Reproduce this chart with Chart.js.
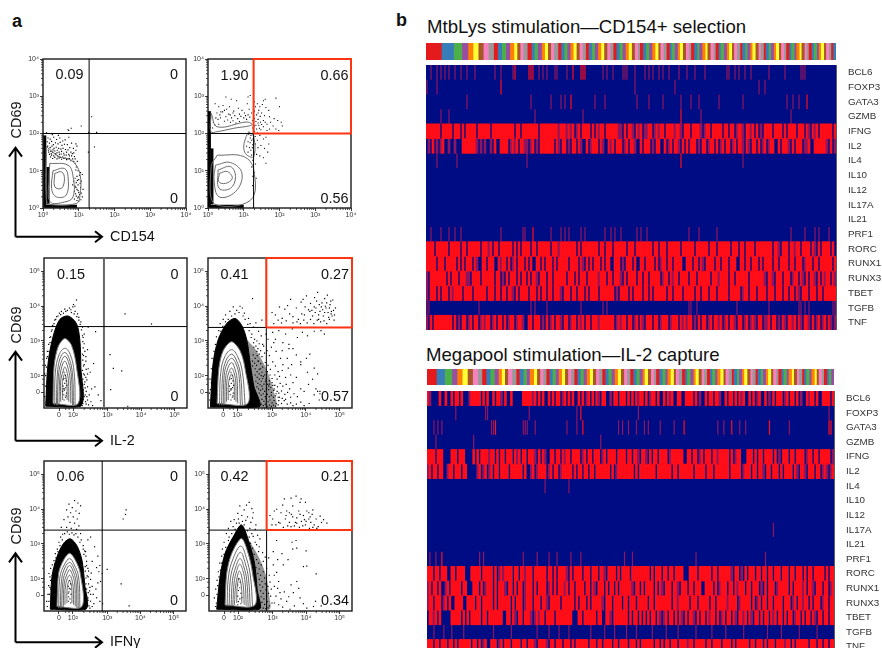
<!DOCTYPE html>
<html><head><meta charset="utf-8">
<script src="https://cdn.jsdelivr.net/npm/chart.js@4"></script>
<style>
html,body{margin:0;padding:0;width:882px;height:648px;overflow:hidden;background:#fff;font-family:'Liberation Sans',Arial,sans-serif}
.wrap{position:absolute}
.t{position:absolute;white-space:nowrap;color:#111;line-height:1;transform:translateY(-50%)}
canvas{display:block}
svg{position:absolute;left:0;top:0}
</style></head><body>
<script>
/* ---------- heat map: genes and cells ---------- */
const genes=["BCL6","FOXP3","GATA3","GZMB","IFNG","IL2","IL4","IL10","IL12","IL17A","IL21","PRF1","RORC","RUNX1","RUNX3","TBET","TGFB","TNF"];
const setColors=["#e41a1c","#377eb8","#4daf4a","#984ea3","#ff7f00","#ffff33","#a65628","#f781bf","#999999"];
const strip1Sizes=[15,12,8,6,5,5,5,5,5,4,4,4,4,4,3,3,3,4,4,3,3,4,3,3,3,3,4,3,3,3,3,3,3,3,3,3,3,3,3,3,3,3,3,3,3,3,3,3,3,3,3,3,3,2,3,3,3,3,3,3,2,3,3,3,2,3,3,2,3,3,3,2,3,3,2,3,3,2,3,3,2,3,2,3,3,2,3,2,3,3,2,3,2,3,2,3,3,2,3,2,3,2,3,2,3,2,3,2,3,2,3,2,3,2,3,2,2,3,2,3,2,2,3,2,3,2,2,3];
const strip2Sizes=[9,8,7,5,5,5,5,5,4,4,4,4,4,3,3,3,4,4,3,4,3,3,4,3,3,3,3,3,3,3,3,3,3,3,3,3,3,3,3,3,3,3,3,3,3,3,3,3,3,3,3,3,3,3,3,3,3,3,2,3,3,3,2,3,3,3,2,3,3,2,3,3,3,2,3,3,2,3,3,2,3,3,2,3,2,3,3,2,3,3,2,3,2,3,2,3,3,2,3,2,3,2,3,2,3,2,3,2,3,2,3,2,3,2,3,2,3,2,2,3,2,3,2,2,3,2,3,2,2,3];

const h1BCL6={dim:[2,5,7,9,11,14,17,20,24,34,37,43,56,58,60,64,65,70,88,90,93,98,99,100,104,109,111,113,116,118,121,126,130,134,139,150,151,154,156,159,162,171,179,187,188,189],hot:[44,51,52,53,73,77,78,79]};
const h1FOXP3={dim:[0,5,104,124,166,169],hot:[37]};
const h1GATA3={dim:[20,52,62,67,69,84,89,105,111,118,127,132,136,146,158,180,183,186],hot:[72,190]};
const h1GZMB={dim:[7,11,54,78,137,182],hot:[127]};
const h1IL4={dim:[5,15,50,158],hot:[127]};
const h1IL10={dim:[],hot:[]};
const h1IL12={dim:[],hot:[]};
const h1IL17A={dim:[],hot:[]};
const h1IL21={dim:[],hot:[]};
const h1PRF1={dim:[2,7,11,14,17,37,48,49,62,67,69,71,77,79,89,92,94,97,105,107,110,131,136,145,182,189,194,196,201],hot:[53]};
const h1TGFB={dim:[0,1,26,52,54,60,77,88,90,131,132,135,155,171,186,187,189,191,203,204],hot:[]};
const h1IFNG="#######.## ###.###.#. #####.#### ##.####### ####.##.## ######.### ######+### +#+#.+#.## ##.#.#+##. ######++.# .##+.#+#.+ +##.+#+##. ####+##+.# ##.####+.+ ##.#####.# #.##.+##+. ##+#.#.+.# ###.####.# .####.###. #+.#+#.### ###.#";
const h1IL2=".+.#.+.+#. .+..+...## #####+.+.+ ..+.#..### #.+#+#.##+ +.+#.+.### ####.#+.## .+.##.#+.. #.+###.#+. .#+#.###.+ #.##+..#.# ##.+.##..# .+#.##+.#. #.###.+.## .+##.#.+#. ##.+#.##+. #+.##.#.+# .+##..#.## #+.#.###.+ +#..###### +.#.+";
const h1RORC="####.##### #.#####.## .######.## #+#.##.### ###.#.#.## ##.##.#### ##.###+### #####.#.## ######.##. ###.###### .###.##### ###.##.### .######.## ####.##### #.###.#### ##.###.##. ####.##### ###.##+.## #.##+##.## ##.#+.#.## ##.#.";
const h1RUNX1="#####.###. #####.#.#. ###.#+..## .###..#+## .#.+#.###. #.#..##.#. ###.#.#### #.####.#+. #.#.###.#. ##..###.+. ###.#..##. ####.#.+## .##.####.. ###.##.#+. ####.##.## #.###..##. ##.###.#.# ###.##.### #.##.###.+ ###.##.### ###.#";
const h1RUNX3="+.######## .#.###.### ++.####.## ####.##.+. #.###.#.## .#.##+.### .##.###### .###.#.### .#####+### .##.###+.# .####.##.# #.#####.+# #.#+##.### #.###.#### ##.###+### #.##.##### #.#######+ .##+.###.# ##.+##.#+. #.##+.#.#+ ##.#+";
const h1TBET="+.###.#.## #.#+####.# ###.###### .###.##.## .##+.#.### #.###.#.## .##.###+.# ##.##.###. #.####.### ####.+.### #.#.####.# #.#.###### .##.####.# ####.##.## #.###.#### #.#####.+# #.###.#### .###.###.# #.##.#+.## #.###.##.# #####";
const h1TNF="+.#.###### ###.#.+.## .+#.##.+#+ ##.+#.##.# .+##.+##+. .##.###.+. #.+#.##+.# #.+##.#+#. ##.###+### ####.+#+## .##.+#.#+. ###.##.+## #.+###.#+# +##.+.#.## .+#.##+#.+ #.##+.##.+ #.+#+.##.+ +#.##.+.#+ .##+#.#+.# #+.#.+#.+# .#+.+";

const h2FOXP3={dim:[14,29,30,51,75,106,202],hot:[77]};
const h2GATA3={dim:[3,5,7,32,33,48,49,50,54,70,75,96,98,101,105,109,111,117,124,146,149,157,160,182],hot:[34,78,129,153,172,202,203]};
const h2GZMB={dim:[4,23,87],hot:[]};
const h2IL4={dim:[59,71],hot:[]};
const h2IL10={dim:[],hot:[]};
const h2IL12={dim:[],hot:[]};
const h2IL17A={dim:[174],hot:[]};
const h2IL21={dim:[],hot:[]};
const h2PRF1={dim:[1,4,26,28,48,55,61,65,72,77,99,103,135,170],hot:[7]};
const h2TGFB={dim:[3,8,18,42,55,61,71,82,89,100,105,113,126,135,150,159,171,187,12,33,66,94,120,143,178,196],hot:[]};
const h2BCL6="#+....#..# ..#.##.#.. .+#####.#. #..#.##+.# ..#.....## ###+#.#.#. .#.#.##.+# .#.#..#.#. +#.#.#+.## ..+.##.### .#.#.#+##. #.+##.#..# .#+#..##.. ####.#.+.. #.##.##+.. #.##.#.#+# ..#.#.+#.. #.+.#.###. +#.##.#.+. .#+##.#..# ###.#";
const h2IFNG="####.###.. ..###.###. ...#.#.### #+##.#.##. ###.#+#.## .###+.#.#+ ..##.##.#+ ##.####.+# .##.###.+# .####.#### .##.##+.## +.#.##.### #.+######. .##.##.+#. ###.##+### ##.#.+##.. .###.#.##. ####.#.+.# ##.##.#### .+##.##.## ###.+";
const h2IL2="+#.##.##.. +##.###.## .....+#.+# .+#.##.### #.######.# ..+#.+#### .+#.##.+## ###.#.##.# #.##.##### ##.#.+#### ####.#.### #####.#### ###.##.### ####.##### .###.##### ##.#####.+ ###.##.##+ .##.###.#. ####.#+.## +.###.##.+ #+.+#";
const h2RORC="###.##.### ..##.####. ..#####.## ###.#.+#+# ###.##.##+ ###.###### .##.#.#### +.#.####.# ##.###.##+ .####.#.## ##.####### ##.#.###.# #.##.####. ..####.### ###.##.### ###+.##.+. #.###.##.# #.##.###.# ##.##.###. #.##.##### .#.##";
const h2RUNX1="+#.##.#..+ #.#####.## ...###.#.+ ###.#.###+ .##.#.##.+ ###.#.#### .+#.#.###+ #.##.####. ##.#+.###. #.##.#.### ###+.##.#. ####.#.#+. ###.##+.## #.##.###.. ####.#.+## #.##.#+### .##.###.+. #.###.+### ##.#.####+ #.##+.###. ##.+#";
const h2RUNX3="+##.###.+# .#..####.. ####.##.## ###.#.#### ##.#.###.+ ###.###.## +.#####.## ####.#.### .#.#####+. ###.####.# #.###.#### #.##.##### ###.##+### ##.###.### ##.##.#### #+####.+## ###.#.+#.# #.##.####. ###.+#.##+ ##.#.###.+ ##.##";
const h2TBET=".##+#.#... ..#####.#. #.#####.## .#######.. ##.#+.##.# ##+.+#+##. ####.##### ###...##.# #####.##.. ##+.###### #.#.##.#.# .#.##.#+.+ #.##.#.#+. #.##+.#.## .#+##.#.+# .##.#+.##+ #.#+.##.#. ##.#+#.##. #.##.+##.# .##.#+.##. ##.##";
const h2TNF="###.##.### .##.#.#### ##.##.#.+# ..###.+#.# ##.####.## .###+.#### +.##.###.# ##.#.##### #.###.##.# ###.##.### #.###.#.## ####.##.#. ##.###.### #+##.##### .##.####.# ###.#.#### ##.##.###. #.###.#### +##.#.#### ##.###.##. ##.##";

/* ---------- flow panels: percentages, contours, events (axis values in decades) ---------- */
const topTicks=[0,1,2,3,4];
const topTickText=["10⁰","10¹","10²","10³","10⁴"];
const lowXTicks=[1.55,1.97,3,4,5];
const lowYTicks=[1.52,2,3,4,5];
const lowTickText=["0","10²","10³","10⁴","10⁵"];

const tlPct=["0.09","0","0"];
const trPct=["1.90","0.66","0.56"];
const mlPct=["0.15","0","0"];
const mrPct=["0.41","0.27","0.57"];
const blPct=["0.06","0","0"];
const brPct=["0.42","0.21","0.34"];

const tlLoops=[
[[0.09,1.65],[0.45,1.38],[0.8,1.28],[1.03,0.93],[1.03,0.3],[0.93,0.12],[0.18,0.1],[0.09,0.25],[0.09,1.65]],
[[0.19,1.2],[0.7,1.15],[0.84,0.85],[0.84,0.3],[0.6,0.16],[0.2,0.17],[0.17,0.8],[0.19,1.2]],
[[0.28,1.0],[0.6,1.06],[0.7,0.85],[0.65,0.35],[0.37,0.3],[0.24,0.52],[0.28,1.0]],
[[0.33,0.93],[0.52,0.97],[0.6,0.8],[0.52,0.53],[0.33,0.57],[0.33,0.93]]];
const tlBands=[[[0.05,0.02],[0.05,1.95]],[[0.04,0.05],[0.95,0.05]],[[0.14,0.1],[0.14,1.1]]];
const tlDots=[0.1,2.02,0.17,2,0.26,1.97,0.33,2,0.43,1.95,0.7,2.1,0.72,2.08,0.79,2.14,1.07,2.2,0.14,1.88,0.2,1.85,0.3,1.9,0.38,1.84,0.47,1.88,0.55,1.8,0.62,1.83,0.72,1.9,0.8,1.74,0.92,1.72,0.95,1.66,0.12,1.78,0.18,1.74,0.24,1.79,0.29,1.7,0.35,1.75,0.42,1.72,0.48,1.76,0.53,1.68,0.6,1.71,0.68,1.7,0.75,1.62,0.85,1.6,0.92,1.55,0.13,1.66,0.2,1.62,0.25,1.66,0.31,1.6,0.37,1.63,0.44,1.6,0.5,1.58,0.56,1.6,0.63,1.57,0.7,1.56,0.78,1.5,0.86,1.48,0.15,1.55,0.22,1.52,0.27,1.5,0.33,1.53,0.39,1.48,0.45,1.5,0.51,1.45,0.58,1.47,0.65,1.42,0.72,1.44,0.8,1.4,0.18,1.44,0.24,1.42,0.3,1.4,0.36,1.43,0.42,1.38,0.48,1.36,0.55,1.37,0.62,1.34,0.7,1.32,0.83,1.32,0.9,1.2,0.93,1.1,0.98,1,1.05,0.95,1.1,0.9,0.95,0.85,0.9,0.8,1,0.76,1.07,0.72,0.93,0.68,0.98,0.62,0.9,0.58,1.05,0.55,0.95,0.5,0.88,0.45,1,0.42,1.02,0.36,0.93,0.32,0.97,0.27,0.88,0.24,1,0.18,1.1,0.3,1.12,0.5,1.36,2.45,1.5,2.03,1.44,1.64,1.28,2.03,1.27,1.5,
0.16,1.5,0.23,1.46,0.28,1.56,0.34,1.46,0.4,1.55,0.46,1.44,0.52,1.52,0.59,1.42,0.66,1.5,0.74,1.4,0.82,1.46,0.88,1.38,0.21,1.37,0.27,1.33,0.33,1.36,0.39,1.32,0.45,1.34,0.52,1.31,0.58,1.33,0.66,1.3,0.74,1.33,0.78,1.27,0.86,1.25,0.9,1.32,0.96,1.25,0.92,1.02,1.02,0.88,0.96,0.74,1.04,0.66,0.92,0.55,0.98,0.47,1.07,0.4,0.91,0.38,0.99,0.3,1.06,0.22,0.95,0.2,0.86,0.72,0.83,0.62];
const trLoops=[
[[0.26,1.42],[1,1.38],[1.28,1.02],[1.19,0.21],[0.17,0.11],[0.09,1.11],[0.26,1.42]],
[[0.21,1.15],[0.63,1.22],[0.95,0.93],[0.77,0.44],[0.31,0.3],[0.17,0.75],[0.21,1.15]],
[[0.28,1.02],[0.63,1.11],[0.77,0.84],[0.63,0.53],[0.31,0.53],[0.28,1.02]],
[[0.32,0.93],[0.54,0.98],[0.68,0.8],[0.49,0.66],[0.3,0.71],[0.32,0.93]],
[[0.09,2.54],[0.26,2.18],[1.09,2.31],[1.23,2.23],[0.72,2.14],[0.26,2.05],[0.08,2.05],[0.09,2.54]],
[[1.14,2.05],[1.28,1.91],[1.28,1.38],[1.09,1.42],[1,1.6],[1.05,1.87],[1.14,2.05]]];
const trBands=[[[0.04,0.02],[0.04,2.6]],[[0.04,0.05],[1.0,0.05]],[[0.11,0.1],[0.11,1.6]]];
const trDots=[0.5,2.98,0.65,2.92,0.8,2.88,1.12,2.98,1.18,3.02,1.1,2.8,1.55,2.88,1.6,2.92,1.9,2.95,2.0,2.72,0.2,2.8,0.3,2.72,0.42,2.75,0.52,2.65,0.6,2.72,0.72,2.6,0.85,2.68,0.95,2.62,1.02,2.55,1.15,2.65,0.25,2.55,0.33,2.5,0.41,2.58,0.5,2.45,0.58,2.52,0.66,2.42,0.75,2.48,0.83,2.4,0.92,2.46,1.0,2.42,1.08,2.38,1.17,2.44,0.28,2.38,0.35,2.42,0.46,2.33,0.55,2.36,0.63,2.3,0.7,2.34,0.78,2.28,0.88,2.32,0.15,2.3,0.2,2.22,0.13,2.15,0.3,2.25,1.3,2.85,1.38,2.8,1.45,2.72,1.52,2.78,1.62,2.7,1.7,2.62,1.42,2.62,1.5,2.55,1.3,2.6,1.36,2.5,1.58,2.48,1.72,2.45,1.85,2.4,1.95,2.35,2.05,2.3,2.08,2.2,1.3,2.4,1.34,2.32,1.4,2.38,1.47,2.3,1.55,2.35,1.65,2.25,1.75,2.3,1.82,2.2,1.9,2.12,1.98,2.08,1.3,2.2,1.36,2.12,1.42,2.22,1.48,2.1,1.55,2.18,1.65,2.08,1.72,2.12,1.3,2.05,1.38,2.02,1.22,2.55,1.25,2.35,1.25,2.15,1.2,1.95,1.26,1.85,1.32,1.92,1.38,1.82,1.45,1.95,1.55,1.85,1.62,1.9,1.7,1.72,1.18,1.75,1.25,1.7,1.33,1.72,1.4,1.62,1.48,1.68,1.58,1.6,1.67,1.5,1.2,1.55,1.28,1.5,1.36,1.44,1.45,1.4,1.55,1.35,1.25,1.28,1.33,1.18,1.22,1.1,1.3,0.95,1.25,0.85,1.35,0.8,1.25,0.6,1.62,1.2,
0.62,2.5,0.7,2.55,0.88,2.52,1.05,2.48,0.36,2.58,0.46,2.62,0.22,2.42,1.12,2.5,1.33,2.72,1.4,2.55,1.46,2.46,1.34,2.22,1.4,2.28,1.44,2.14,1.5,2.24,1.6,2.3,1.14,1.98,1.18,1.88,1.12,1.78,1.22,1.82,1.08,1.66,1.16,1.62,1.24,1.62,1.12,1.5,1.22,1.42];

const mlInk=[[1.15,1.12],[1.22,2.35],[1.37,3.12],[1.57,3.62],[1.82,3.72],[2.07,3.5],[2.17,3.03],[2.2,2.26],[2.2,1.12],[1.15,1.12]];
const mlCore=[[1.37,1.2],[1.4,2.26],[1.52,2.83],[1.72,3.07],[1.92,2.88],[2.07,2.26],[2.12,1.2],[1.37,1.2]];
const mlLoops=[
[[1.42,1.15],[1.44,2.1],[1.55,2.6],[1.72,2.79],[1.88,2.62],[2,2.1],[2.03,1.15]],
[[1.47,1.15],[1.5,2.05],[1.58,2.5],[1.72,2.67],[1.85,2.5],[1.95,2.05],[1.98,1.15]],
[[1.5,1.15],[1.53,1.98],[1.61,2.38],[1.72,2.56],[1.83,2.4],[1.92,1.98],[1.95,1.15]],
[[1.55,1.2],[1.57,1.9],[1.63,2.25],[1.72,2.42],[1.8,2.28],[1.88,1.9],[1.9,1.2]],
[[1.6,1.25],[1.6,1.85],[1.67,2.13],[1.72,2.25],[1.78,2.13],[1.83,1.85],[1.84,1.25]],
[[1.66,1.3],[1.65,1.8],[1.72,2.05],[1.78,1.8],[1.79,1.3]]];
const mlCoreDots=[1.7,2.1,1.74,2,1.68,1.9,1.76,1.85,1.72,1.78,1.67,1.7,1.75,1.66,1.71,1.58,1.77,1.5,1.69,1.45,1.74,1.38,1.7,1.3,1.66,1.55,1.78,1.72,1.73,1.92,1.72,1.62,1.76,1.42,1.68,1.62];
const mlDots=[2.07,4.18,1.96,3.98,2.02,4,1.9,3.9,2.03,3.85,2.1,3.78,1.75,3.85,1.68,3.8,1.6,3.76,1.52,3.72,1.45,3.62,1.4,3.5,2.14,3.68,2.2,3.55,2.25,3.4,2.3,3.2,1.34,3.32,1.3,3.12,1.28,2.95,1.25,2.7,1.2,2.55,1.17,2.25,1.15,2,1.14,1.7,1.12,1.4,2.27,3.1,2.3,2.92,2.32,2.7,2.28,2.58,2.35,2.42,2.28,2.28,2.36,2.18,2.28,2.05,2.35,1.95,2.3,1.75,2.42,2.2,2.48,2.1,2.27,1.6,2.36,1.55,2.3,1.4,2.4,1.3,2.26,1.2,2.36,1.18,2.5,1.25,2.55,1.14,2.45,1.45,2.64,3.27,2.42,3.4,3.52,3.78,4.31,3.49,3.07,2.61,3.17,2.21,3.42,2.14,2.9,1.77,3.09,1.6,2.58,2.35,2.52,1.62,2.72,1.45,2.8,1.28,2.62,1.68,3.6,1.12,2.35,2.55,2.4,2.75,1.98,4.05,1.86,3.95,1.72,3.92,
1.62,3.85,1.56,3.8,1.48,3.7,1.42,3.6,1.36,3.45,1.32,3.28,1.27,3.1,1.24,2.9,1.2,2.7,1.18,2.5,1.14,2.3,1.12,2.05,1.8,3.88,1.92,3.82,2,3.78,2.08,3.7,2.14,3.6,2.18,3.48,2.22,3.32,2.25,3.15,2.26,2.98,2.27,2.8,2.25,2.62,2.26,2.45,2.3,2.32,2.25,2.15,2.31,2.02,2.26,1.9,2.32,1.82,2.25,1.72,2.33,1.65,2.26,1.5,2.33,1.45,2.27,1.32,2.34,1.25,2.24,1.14,2.43,1.16,2.38,1.4,2.4,1.68,2.38,1.88,2.4,2.05];
const mrHaze=[[2.25,3.05],[2.55,2.7],[2.85,2.15],[3.05,1.55],[3.12,1.1],[2.5,1.1],[2.25,3.05]];
const mrInk=[[1.17,1.1],[1.25,2.35],[1.4,3.03],[1.65,3.5],[1.9,3.65],[2.1,3.45],[2.25,3.03],[2.36,2.3],[2.46,1.7],[2.62,1.1],[1.17,1.1]];
const mrCore=[[1.37,1.2],[1.42,2.2],[1.55,2.72],[1.8,2.98],[2.05,2.72],[2.2,2.2],[2.28,1.2],[1.37,1.2]];
const mrLoops=[
[[1.44,1.15],[1.48,2.1],[1.6,2.55],[1.8,2.75],[1.98,2.55],[2.12,2.1],[2.2,1.15]],
[[1.5,1.15],[1.54,2.05],[1.64,2.45],[1.8,2.62],[1.94,2.45],[2.06,2.05],[2.12,1.15]],
[[1.55,1.15],[1.58,2],[1.67,2.36],[1.8,2.5],[1.92,2.36],[2.02,2],[2.06,1.15]],
[[1.6,1.2],[1.62,1.92],[1.7,2.25],[1.8,2.38],[1.88,2.25],[1.96,1.92],[1.98,1.2]],
[[1.65,1.25],[1.66,1.85],[1.73,2.12],[1.8,2.22],[1.86,2.12],[1.92,1.85],[1.93,1.25]],
[[1.7,1.3],[1.71,1.8],[1.8,2.05],[1.87,1.8],[1.88,1.3]]];
const mrCoreDots=[1.78,2.1,1.82,2,1.75,1.9,1.84,1.85,1.79,1.78,1.74,1.7,1.83,1.66,1.78,1.58,1.85,1.5,1.76,1.45,1.82,1.38,1.78,1.3,1.73,1.55,1.86,1.72,1.8,1.92,1.8,1.62,1.84,1.42,1.76,1.62];
const mrDots=[2.42,4.22,2.05,4,2.12,3.95,1.85,3.98,1.95,3.88,1.75,3.85,2.18,3.8,1.62,3.75,1.55,3.62,2.3,3.65,2.35,3.5,2.45,3.4,2.52,3.52,2.6,3.28,2.7,3.6,1.46,3.5,1.42,3.3,1.35,3.12,1.32,2.9,1.28,2.7,1.22,2.5,1.2,2.2,1.16,1.9,1.14,1.5,2.4,3.2,2.48,3.05,2.55,3,2.62,2.92,2.68,3.15,2.75,2.85,2.82,3.2,2.88,3.05,2.46,2.82,2.55,2.7,2.62,2.62,2.7,2.55,2.78,2.65,2.85,2.72,2.92,2.58,2.98,2.82,3.05,2.95,3.12,2.7,2.58,2.42,2.66,2.35,2.72,2.25,2.8,2.38,2.88,2.3,2.95,2.18,3.02,2.4,3.1,2.28,3.18,2.12,3.25,2.5,3.32,2.32,2.62,2.18,2.7,2.1,2.78,2.02,2.86,2.12,2.94,2.02,3,1.92,3.08,2.02,3.15,1.9,3.22,1.98,3.3,2.15,3.4,1.95,3.48,2.22,3.55,2.02,2.72,1.92,2.8,1.84,2.92,1.76,3,1.8,3.08,1.72,3.16,1.68,3.24,1.78,3.32,1.7,3.42,1.75,3.52,1.62,3.62,1.8,3.72,1.95,3.85,2.32,4.02,2.5,2.9,1.6,2.98,1.52,3.05,1.58,3.12,1.48,3.2,1.5,3.28,1.56,3.38,1.46,3.46,1.52,3.55,1.38,3.65,1.48,3.75,1.4,3.85,1.62,3.95,1.55,4.08,1.75,4.2,1.9,4.25,1.45,4.4,1.3,3.2,1.28,3.28,1.2,3.36,1.28,3.45,1.18,3.55,1.22,3.62,1.14,3.72,1.18,3.85,1.24,3.95,1.14,4.1,1.2,4.35,1.55,4.42,1.48,3.22,1.38,3.3,1.35,3.4,1.32,
2.44,2.6,2.5,2.5,2.56,2.58,2.42,2.42,2.48,2.36,2.54,2.3,2.6,2.42,2.66,2.2,2.42,2.28,2.5,2.2,2.56,2.12,2.62,2.05,2.68,2.0,2.5,2.02,2.56,1.95,2.62,1.9,2.68,1.84,2.74,1.98,2.52,1.84,2.58,1.78,2.64,1.74,2.7,1.7,2.76,1.76,2.82,1.9,2.86,1.75,2.92,1.85,2.55,1.68,2.6,1.62,2.66,1.58,2.72,1.62,2.78,1.55,2.84,1.62,2.9,1.7,2.96,1.66,3.02,1.72,3.06,1.62,2.62,1.5,2.68,1.44,2.74,1.48,2.8,1.4,2.86,1.46,2.92,1.4,2.98,1.44,3.04,1.38,3.1,1.42,3.15,1.55,3.18,1.38,2.7,1.32,2.76,1.26,2.82,1.34,2.88,1.25,2.94,1.3,3,1.22,3.06,1.28,3.12,1.2,3.18,1.16,2.68,1.18,2.74,1.14,2.8,1.18,2.86,1.12,2.92,1.15,2.98,1.12,3.04,1.15,3.1,1.12,2.45,2.95,2.52,2.85,2.58,2.78,2.66,2.72,2.72,2.9,2.38,3.1,2.32,3.3,2.28,3.48,2.2,3.62,2.14,3.72,2.02,3.82,1.9,3.78,1.8,3.72,1.7,3.62,1.62,3.55,1.54,3.42,1.48,3.28,1.44,3.12,1.4,2.95,1.34,2.7,1.3,2.5,1.27,2.3,1.24,2.05,1.2,1.8,1.17,1.6,1.15,1.3,
3.0,3.82,3.1,3.75,3.22,3.98,3.3,3.65,3.38,3.92,3.46,4.02,3.55,4.2,3.62,3.7,3.72,3.95,3.78,3.62,3.86,4.12,3.92,4.2,3.96,3.75,4.02,4.3,4.08,3.9,4.14,4.08,4.2,3.72,4.26,4.25,4.3,3.95,4.35,4.4,4.38,3.62,4.42,3.85,4.48,4.1,4.52,3.72,4.56,4.22,4.6,3.95,4.64,4.32,4.68,3.68,4.72,4.05,4.76,3.85,4.8,4.18,4.84,3.6,4.88,3.95,3.05,3.5,3.18,3.6,3.28,3.52,3.42,3.58,3.52,3.78,3.62,3.52,3.74,3.55,3.84,3.5,3.94,3.6,4.04,3.52,4.14,3.62,4.24,3.5,4.34,3.6,4.44,3.55,4.54,3.58,4.62,3.5,4.7,3.62,4.78,3.72,4.85,3.75,4.66,3.82,4.58,4.0,4.46,3.98,4.38,3.75,4.28,3.82,4.12,3.85,3.98,3.98,3.88,3.78,4.5,3.9,4.56,3.82,4.62,4.1,4.7,3.95,4.75,3.78,4.82,3.88,4.74,4.15,4.4,4.05,4.32,4.15,4.25,3.98,4.18,3.88,
3.2,3.3,3.4,3.2,3.6,3.35,3.75,3.1,3.9,3.25,4.05,3.15,4.25,3.28,4.45,3.3,4.55,3.2,3.02,3.25,3.1,3.05,3.32,2.95,3.5,2.9,3.62,2.78,3.72,2.6,3.85,2.4,4.12,2.62,4.05,2.1,4.25,2.22,4.35,2.05,4.3,1.62,4.42,1.55,3.5,2.78,3.3,2.72,3.45,2.5,3.58,2.32];
const blInk=[[1.29,1.12],[1.34,2.06],[1.49,2.63],[1.69,3.02],[1.89,3.15],[2.09,2.95],[2.24,2.54],[2.32,1.87],[2.36,1.12],[1.29,1.12]];
const blCore=[[1.49,1.2],[1.54,2.16],[1.69,2.54],[1.87,2.73],[2.04,2.54],[2.19,2.16],[2.24,1.2],[1.49,1.2]];
const blLoops=[
[[1.54,1.15],[1.58,2.05],[1.72,2.42],[1.87,2.58],[2,2.42],[2.14,2.05],[2.18,1.15]],
[[1.59,1.15],[1.63,1.98],[1.74,2.34],[1.87,2.47],[1.98,2.34],[2.1,1.98],[2.13,1.15]],
[[1.63,1.15],[1.67,1.92],[1.77,2.25],[1.87,2.38],[1.96,2.25],[2.06,1.92],[2.09,1.15]],
[[1.68,1.2],[1.71,1.88],[1.8,2.15],[1.87,2.26],[1.94,2.15],[2.02,1.88],[2.04,1.2]],
[[1.73,1.25],[1.75,1.82],[1.87,2.1],[1.97,1.82],[1.99,1.25]],
[[1.79,1.3],[1.8,1.75],[1.87,1.95],[1.93,1.75],[1.94,1.3]]];
const blCoreDots=[1.86,1.95,1.9,1.85,1.83,1.78,1.89,1.7,1.85,1.62,1.91,1.55,1.84,1.48,1.88,1.42,1.84,1.35,1.9,1.3,1.86,1.72,1.83,1.58];
const blDots=[1.85,4.15,2.02,4.25,2.12,4.18,2.2,4.1,1.95,4.05,1.78,3.98,2.06,3.95,1.9,3.9,2.16,3.88,1.82,3.78,1.98,3.78,2.1,3.72,1.7,3.7,1.88,3.62,2.02,3.6,2.15,3.52,1.62,3.48,1.78,3.48,1.92,3.45,2.08,3.42,2.2,3.3,1.66,3.28,1.55,3.05,1.6,3.2,2.22,3.12,2.28,2.85,1.5,2.85,1.44,2.72,1.4,2.52,2.3,2.7,2.38,2.5,2.34,2.35,2.44,2.22,2.4,2.08,2.52,2.16,2.5,1.98,2.44,1.85,2.55,1.78,2.47,1.65,2.58,1.55,2.42,1.45,2.5,1.35,2.45,1.22,2.6,1.28,2.68,1.45,2.66,1.7,2.72,1.88,2.55,2.5,2.72,2.65,2.78,2.38,2.75,2.2,2.85,2.15,2.8,1.92,2.62,2.92,2.68,2.32,2.35,2.78,1.3,2.3,1.28,2.05,1.24,1.8,1.22,1.55,1.18,1.35,1.2,1.2,1.35,2.4,1.42,2.3,1.25,2.15,1.32,1.35,1.3,1.7,2.42,3.12,2.5,3.2,3.55,3.85,3.57,3.98,3.48,3.72,3.0,2.27,3.42,1.85,3.66,1.22,2.78,1.35,2.86,1.28,
1.72,3.3,1.8,3.35,1.86,3.28,1.94,3.32,2.0,3.26,2.06,3.3,2.12,3.2,2.18,3.05,1.65,3.12,1.58,2.95,1.52,2.78,1.46,2.6,1.42,2.42,1.38,2.25,1.34,2.1,1.3,1.95,1.28,1.75,1.26,1.55,1.25,1.35,2.28,2.95,2.32,2.8,2.36,2.65,2.38,2.38,2.34,2.22,2.42,2.3,2.36,2.02,2.43,2.05,2.36,1.85,2.38,1.7,2.43,1.6,2.38,1.5,2.43,1.38,2.4,1.25,2.48,1.15,2.36,1.15,2.55,1.2,2.5,1.55,2.48,1.75];
const brHaze=[[2.3,3.1],[2.6,2.6],[2.8,2.1],[2.9,1.5],[2.92,1.12],[2.55,1.12],[2.3,3.1]];
const brInk=[[1.33,1.12],[1.43,2.06],[1.58,2.73],[1.82,3.2],[2.07,3.55],[2.28,3.1],[2.46,2.44],[2.54,1.67],[2.6,1.12],[1.33,1.12]];
const brCore=[[1.58,1.24],[1.63,2.16],[1.78,2.73],[2.07,3.16],[2.27,2.73],[2.4,2.16],[2.47,1.24],[1.58,1.24]];
const brLoops=[
[[1.64,1.2],[1.68,2.05],[1.82,2.58],[2.05,2.94],[2.22,2.58],[2.34,2.05],[2.4,1.2]],
[[1.7,1.2],[1.74,2],[1.86,2.45],[2.04,2.76],[2.18,2.45],[2.28,2],[2.33,1.2]],
[[1.76,1.2],[1.8,1.94],[1.9,2.34],[2.03,2.58],[2.14,2.34],[2.23,1.94],[2.27,1.2]],
[[1.81,1.22],[1.85,1.88],[1.93,2.24],[2.02,2.42],[2.11,2.24],[2.18,1.88],[2.21,1.22]],
[[1.86,1.25],[1.9,1.82],[2.01,2.22],[2.12,1.82],[2.15,1.25]],
[[1.93,1.3],[1.94,1.75],[2.0,2.02],[2.07,1.75],[2.08,1.3]]];
const brCoreDots=[1.98,2,2.03,1.9,1.96,1.82,2.02,1.74,1.98,1.66,2.05,1.58,1.96,1.5,2.02,1.42,1.98,1.34,2.05,1.28,1.96,1.25,2.08,1.45];
const brDots=[2.02,4.1,2.22,4.12,2.3,4.2,2.38,4.02,2.15,3.98,2.42,3.9,1.96,3.88,2.08,3.82,2.25,3.78,2.4,3.75,1.85,3.7,1.75,3.65,1.98,3.72,2.2,3.68,2.35,3.62,2.5,3.55,1.68,3.45,1.82,3.5,1.62,3.3,1.7,3.2,1.55,3.05,1.5,2.85,1.48,2.65,1.42,2.45,1.38,2.2,1.34,1.95,1.3,1.7,1.26,1.45,1.3,1.2,2.48,3.42,2.38,3.3,2.55,3.25,2.62,3.15,2.48,3.05,2.6,2.92,2.7,2.75,2.78,2.62,2.72,2.5,2.82,2.3,2.9,2.1,2.92,1.9,2.96,1.7,2.94,1.5,2.98,1.3,3.02,2.4,3.05,2.1,3.12,2.18,3.18,1.92,3.05,1.78,3.15,1.72,3.22,1.6,3.1,1.5,3.25,1.42,3.05,1.3,3.18,1.25,3.3,1.18,3.42,1.35,3.35,1.62,3.48,1.48,3.55,1.82,3.62,1.6,3.72,1.92,3.78,1.72,3.82,1.45,3.52,1.12,3.65,1.22,3.92,1.28,4.02,1.15,4.22,1.2,4.28,1.35,4.45,1.22,2.88,2.6,3.02,2.78,3.15,2.55,3.28,2.72,3.32,2.4,3.46,2.55,3.58,3.05,3.7,3.1,3.6,2.85,3.72,2.88,3.92,2.35,4.02,2.36,4.3,2.14,4.0,2.8,3.12,3.1,
2.52,2.55,2.58,2.45,2.5,2.32,2.6,2.28,2.66,2.4,2.56,2.15,2.64,2.1,2.72,2.2,2.6,1.98,2.68,1.92,2.76,2.02,2.62,1.82,2.7,1.76,2.78,1.85,2.64,1.65,2.72,1.58,2.8,1.68,2.86,1.78,2.66,1.48,2.74,1.42,2.82,1.5,2.88,1.58,2.68,1.32,2.76,1.26,2.84,1.34,2.9,1.22,2.72,1.15,2.8,1.14,2.64,1.18,2.86,1.16,2.45,2.7,2.4,2.88,2.34,3.02,2.3,3.2,2.25,3.38,2.15,3.55,2.0,3.6,1.88,3.42,1.78,3.3,1.68,3.1,1.6,2.9,1.55,2.7,1.48,2.45,1.44,2.25,1.4,2.05,1.36,1.8,1.34,1.55,1.32,1.3,1.92,3.6,2.1,3.65,2.32,3.45,2.42,3.22,2.52,2.98,2.58,2.78,
2.92,3.82,3.0,3.72,3.05,3.95,3.12,4.0,3.18,3.62,3.25,3.9,3.3,4.12,3.38,3.72,3.42,3.95,3.5,3.62,3.56,3.85,3.6,4.1,3.65,3.52,3.72,3.75,3.78,3.95,3.82,4.2,3.86,3.65,3.92,3.82,3.98,3.55,4.02,3.95,4.08,3.72,4.14,3.62,4.18,3.85,4.24,3.55,4.3,3.72,4.36,3.5,4.42,3.8,4.46,3.62,4.52,3.7,4.62,3.6,3.1,3.55,3.22,3.6,3.32,3.48,3.45,3.52,3.55,3.5,3.68,3.62,3.8,3.48,3.9,3.52,4.1,3.45,4.2,3.48,4.32,3.45,3.35,4.3,3.55,4.32,3.7,4.38,3.85,4.3,3.98,4.2,4.2,3.98,2.98,3.55,3.95,3.7,4.08,3.9,3.6,3.78,3.72,3.6,3.82,3.85,4.0,3.65,4.12,3.78,3.4,3.82,3.5,3.9];

/* ---------- page geometry ---------- */
const FONT="'Liberation Sans','DejaVu Sans',sans-serif";
const pageLayer=document.body;
function pairs(f){const o=[];for(let i=0;i+1<f.length;i+=2)o.push({x:f[i],y:f[i+1]});return o;}
function pts(a){return a.map(p=>({x:p[0],y:p[1]}));}
function addText(txt,x,y,size,opt={}){const d=document.createElement('div');d.className='t';d.textContent=txt;d.style.left=x+'px';d.style.top=y+'px';d.style.fontSize=size+'px';if(opt.bold)d.style.fontWeight='700';pageLayer.appendChild(d);return d;}
function rotText(txt,x,y,size){const d=addText(txt,x,y,size);d.style.transform='translate(-50%,-50%) rotate(-90deg)';return d;}

const framePlugin={id:'panelFrame',beforeDatasetsDraw(c){const o=c.options.plugins.panelFrame;const a=c.chartArea,g=c.ctx;g.save();
 g.strokeStyle='#222';g.lineWidth=.8;
 (o.minorX||[]).forEach(v=>{const p=c.scales.x.getPixelForValue(v);g.beginPath();g.moveTo(p,a.bottom);g.lineTo(p,a.bottom+2);g.stroke();});
 (o.minorY||[]).forEach(v=>{const p=c.scales.y.getPixelForValue(v);g.beginPath();g.moveTo(a.left,p);g.lineTo(a.left-2,p);g.stroke();});
 g.strokeStyle='#1a1a1a';g.lineWidth=1.4;g.strokeRect(a.left,a.top,a.right-a.left,a.bottom-a.top);g.restore();},
 afterDraw(c){const o=c.options.plugins.panelFrame;const g=c.ctx,a=c.chartArea;g.save();g.fillStyle='#111';g.font="14.4px "+FONT;g.textAlign='right';g.textBaseline='middle';
 (o.pct||[]).forEach(p=>g.fillText(p.t,a.left+p.dx,a.top+p.dy));g.restore();}};
Chart.register(framePlugin);

function minorLog(a,b){const m=[];for(let n=a;n<b;n++)for(const k of [2,3,4,5,6,7,8,9])m.push(n+Math.log10(k));return m;}

function panel(cfg){
 const L=30,T=6,R=12,B=20;
 const w=document.createElement('div');w.className='wrap';
 w.style.left=(cfg.x-L)+'px';w.style.top=(cfg.y-T)+'px';
 const cv=document.createElement('canvas');cv.width=cfg.w+L+R;cv.height=cfg.h+T+B;cv.style.width=cv.width+'px';cv.style.height=cv.height+'px';
 w.appendChild(cv);pageLayer.appendChild(w);
 const list=[];
 if(cfg.haze)list.push({data:pts(cfg.haze),showLine:true,fill:'shape',backgroundColor:'rgba(0,0,0,.42)',borderWidth:0,pointRadius:0,tension:.3});
 if(cfg.ink)list.push({data:pts(cfg.ink),showLine:true,fill:'shape',backgroundColor:'#000',borderColor:'#000',borderWidth:1,pointRadius:0,tension:.3});
 if(cfg.dots)list.push({data:pairs(cfg.dots),showLine:false,pointStyle:'rect',pointRadius:cfg.dotR||.7,backgroundColor:'#000',borderWidth:0});
 if(cfg.core)list.push({data:pts(cfg.core),showLine:true,fill:'shape',backgroundColor:'#fff',borderColor:'#777',borderWidth:1,pointRadius:0,tension:.3});
 (cfg.bands||[]).forEach(b=>list.push({data:pts(b),showLine:true,borderColor:'#000',borderWidth:3,pointRadius:0}));
 (cfg.loops||[]).forEach(l=>list.push({data:pts(l),showLine:true,borderColor:'#6a6a6a',borderWidth:1,pointRadius:0,tension:.4}));
 if(cfg.coreDots)list.push({data:pairs(cfg.coreDots),showLine:false,pointStyle:'rect',pointRadius:.8,backgroundColor:'#111',borderWidth:0});
 const [gx,gy]=cfg.gate;
 list.push({data:[{x:gx,y:cfg.yr[0]},{x:gx,y:cfg.yr[1]}],showLine:true,borderColor:cfg.gateColor||'#000',borderWidth:cfg.gateW||1,pointRadius:0});
 list.push({data:[{x:cfg.xr[0],y:gy},{x:cfg.xr[1],y:gy}],showLine:true,borderColor:'#000',borderWidth:1,pointRadius:0});
 if(cfg.red)list.push({data:[{x:gx,y:gy},{x:cfg.xr[1],y:gy},{x:cfg.xr[1],y:cfg.yr[1]},{x:gx,y:cfg.yr[1]},{x:gx,y:gy}],showLine:true,borderColor:'#ff3412',borderWidth:2,pointRadius:0,clip:6,borderJoinStyle:'miter'});
 list.forEach((d,i)=>d.order=list.length-i);
 const tickFont={family:FONT,size:7};
 const mkScale=(rng,tk,tx,fit,pad)=>({type:'linear',min:rng[0],max:rng[1],border:{display:false},
  grid:{drawOnChartArea:false,drawTicks:true,tickLength:3,tickColor:'#222',tickWidth:.9},
  ticks:{autoSkip:false,maxRotation:0,minRotation:0,padding:pad,color:'#333',font:tickFont,callback:(v,i)=>tx[i]},
  afterBuildTicks:s=>{s.ticks=tk.map(v=>({value:v}));},afterFit:fit});
 new Chart(cv,{type:'scatter',data:{datasets:list},options:{responsive:false,animation:false,events:[],
  layout:{padding:{left:0,top:T,right:R,bottom:0}},
  plugins:{legend:{display:false},tooltip:{enabled:false},panelFrame:{pct:cfg.pct,minorX:cfg.minorX,minorY:cfg.minorY}},
  scales:{x:mkScale(cfg.xr,cfg.xt,cfg.tx,s=>{s.height=B;},0),y:mkScale(cfg.yr,cfg.yt,cfg.tx,s=>{s.width=L;},1)}}});
}
const TOPR=[0,4],LOWX=[1.1,5.37],LOWY=[1.07,5.39];
const lowMinorX=[1.75,1.85,2.3,2.48,2.6,2.7,2.78,2.85,2.9,2.95].concat(minorLog(3,5));
const lowMinorY=[1.75,1.9].concat(minorLog(2,5));
const topCfg={xr:TOPR,yr:TOPR,xt:topTicks,yt:topTicks,tx:topTickText,minorX:minorLog(0,4),minorY:minorLog(0,4)};
const lowCfg={xr:LOWX,yr:LOWY,xt:lowXTicks,yt:lowYTicks,tx:lowTickText,minorX:lowMinorX,minorY:lowMinorY};
function pctL(v,gatePx,w,topY,botY,rInset){return [{t:v[0],dx:gatePx,dy:topY},{t:v[1],dx:w-rInset,dy:topY},{t:v[2],dx:w-rInset,dy:botY}];}

panel({...topCfg,x:43,y:59,w:143,h:149,gate:[1.29,2],dotR:.8,bands:tlBands,loops:tlLoops,dots:tlDots,pct:pctL(tlPct,40.5,143,16,140,8)});
panel({...topCfg,x:208,y:59,w:143,h:149,gate:[1.275,2],dotR:.75,red:true,bands:trBands,loops:trLoops,dots:trDots,pct:pctL(trPct,40.5,143,17,140,2.5)});
panel({...lowCfg,x:44,y:258,w:143,h:150,gate:[2.89,3.415],dotR:.85,gateColor:'#666',gateW:2,ink:mlInk,core:mlCore,loops:mlLoops,dots:mlDots,coreDots:mlCoreDots,pct:pctL(mlPct,41,143,17,139.5,8.5)});
panel({...lowCfg,x:208,y:258,w:144,h:150,gate:[2.83,3.39],dotR:.85,red:true,haze:mrHaze,ink:mrInk,core:mrCore,loops:mrLoops,dots:mrDots,coreDots:mrCoreDots,pct:pctL(mrPct,40.5,144,17,139.5,3)});
panel({...lowCfg,x:44,y:461,w:142,h:150,gate:[2.85,3.4],dotR:.85,ink:blInk,core:blCore,loops:blLoops,dots:blDots,coreDots:blCoreDots,pct:pctL(blPct,40.5,142,16.5,140,8)});
panel({...lowCfg,x:209,y:461,w:143,h:150,gate:[2.82,3.4],dotR:.85,red:true,haze:brHaze,ink:brInk,core:brCore,loops:brLoops,dots:brDots,coreDots:brCoreDots,pct:pctL(brPct,39.5,143,16.5,140,3)});

/* ---------- heat maps ---------- */
const COLS=205;
const NAVY='#000c84',RED='#ff0d18',DIM='#8e1660';
function decodeRow(r){const out=new Array(COLS).fill(0);
 if(typeof r==='string'){const s=r.replace(/\s/g,'');for(let i=0;i<COLS&&i<s.length;i++)out[i]=s[i]==='#'?2:s[i]==='+'?1:0;}
 else{r.dim.forEach(c=>out[c]=1);r.hot.forEach(c=>out[c]=2);}
 return out;}
function heat(x,y,w,h,rows,labelPad){
 const R=46;const wr=document.createElement('div');wr.className='wrap';wr.style.left=x+'px';wr.style.top=y+'px';
 const cv=document.createElement('canvas');cv.width=w+R;cv.height=h;cv.style.width=(w+R)+'px';cv.style.height=h+'px';wr.appendChild(cv);pageLayer.appendChild(wr);
 const labels=[];for(let i=0;i<COLS;i++)labels.push(String(i));
 const datasets=rows.map((r,ri)=>{const v=decodeRow(r);return{label:genes[ri],data:v.map(c=>c?[ri,ri+1]:null),backgroundColor:v.map(c=>c===2?RED:DIM),borderWidth:0,barPercentage:typeof r==='string'?1:.6,categoryPercentage:1,grouped:false};});
 const tk=genes.map((g,i)=>i+.5);
 new Chart(cv,{type:'bar',data:{labels,datasets},plugins:[{id:'navy',beforeDatasetsDraw(c){const a=c.chartArea;c.ctx.save();c.ctx.fillStyle=NAVY;c.ctx.fillRect(a.left,a.top,a.right-a.left,a.bottom-a.top);c.ctx.restore();}}],
  options:{responsive:false,animation:false,events:[],layout:{padding:0},plugins:{legend:{display:false},tooltip:{enabled:false}},
  scales:{x:{type:'category',display:false,offset:true,grid:{display:false}},
   y:{type:'linear',position:'right',reverse:true,min:0,max:18,border:{display:false},grid:{display:false,drawTicks:false},
    ticks:{autoSkip:false,padding:labelPad,color:'#333',font:{family:FONT,size:9.8},callback:(v,i)=>genes[i]},
    afterBuildTicks:s=>{s.ticks=tk.map(v=>({value:v}));},afterFit:s=>{s.width=R;s.paddingTop=0;s.paddingBottom=0;}}}}});
}
function strip(x,y,w,h,sizes){
 const wr=document.createElement('div');wr.className='wrap';wr.style.left=x+'px';wr.style.top=y+'px';
 const cv=document.createElement('canvas');cv.width=w;cv.height=h;cv.style.width=w+'px';cv.style.height=h+'px';wr.appendChild(cv);pageLayer.appendChild(wr);
 const total=sizes.reduce((a,b)=>a+b,0);
 new Chart(cv,{type:'bar',data:{labels:['cluster'],datasets:sizes.map((s,i)=>({data:[s],backgroundColor:setColors[i%setColors.length],borderWidth:0,barPercentage:1,categoryPercentage:1}))},
  options:{indexAxis:'y',responsive:false,animation:false,events:[],layout:{padding:0},plugins:{legend:{display:false},tooltip:{enabled:false}},
  scales:{x:{type:'linear',stacked:true,display:false,min:0,max:total},y:{type:'category',stacked:true,display:false}}}});
}
const h1Rows=[h1BCL6,h1FOXP3,h1GATA3,h1GZMB,h1IFNG,h1IL2,h1IL4,h1IL10,h1IL12,h1IL17A,h1IL21,h1PRF1,h1RORC,h1RUNX1,h1RUNX3,h1TBET,h1TGFB,h1TNF];
const h2Rows=[h2BCL6,h2FOXP3,h2GATA3,h2GZMB,h2IFNG,h2IL2,h2IL4,h2IL10,h2IL12,h2IL17A,h2IL21,h2PRF1,h2RORC,h2RUNX1,h2RUNX3,h2TBET,h2TGFB,h2TNF];
strip(426,43,410,17,strip1Sizes);
heat(426,65,410,265,h1Rows,12);
strip(427,369,407,16,strip2Sizes);
heat(427,391,407,263,h2Rows,12);

/* ---------- titles, axis names, arrows ---------- */
addText("a",12,21,18,{bold:true});
addText("b",396,20,18,{bold:true});
addText("MtbLys stimulation—CD154+ selection",427,26.5,18.6);
addText("Megapool stimulation—IL-2 capture",426,355,18.6);
[[120,236.7,"CD154"],[325,440.7,"IL-2"],[526,642.3,"IFNγ"]].forEach(([cy,ay,name])=>{
 rotText("CD69",16,cy,14.4);
 addText(name,110,ay-1,14.4);
});
const ns='http://www.w3.org/2000/svg';
const svg=document.createElementNS(ns,'svg');svg.setAttribute('width',882);svg.setAttribute('height',648);
let d='';
[236.7,440.7,642.3].forEach(ay=>{const tip=ay-89;
 d+=`M15.5 ${ay}H101M95 ${ay-5.5}L102 ${ay}L95 ${ay+5.5}M15.5 ${ay}V${tip}M9 ${tip+9}L15.5 ${tip}L22 ${tip+9}`;});
const p=document.createElementNS(ns,'path');p.setAttribute('d',d);p.setAttribute('fill','none');p.setAttribute('stroke','#000');p.setAttribute('stroke-width','2');svg.appendChild(p);
document.body.appendChild(svg);
</script>
</body></html>
